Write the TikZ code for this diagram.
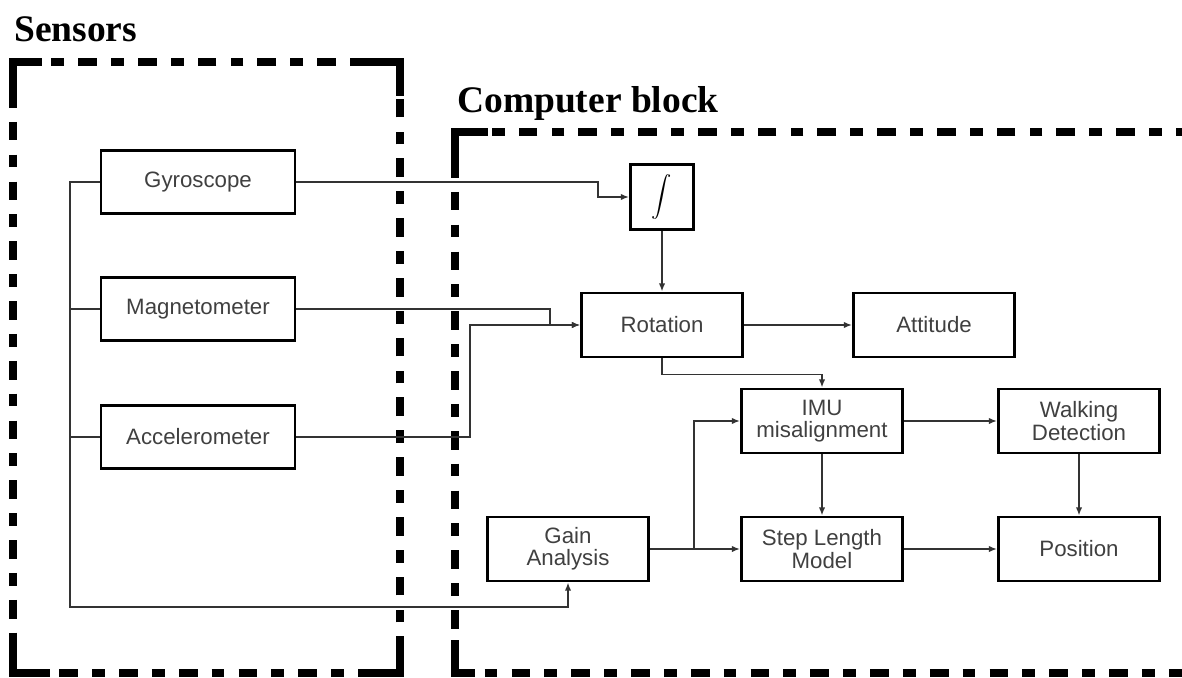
\documentclass[tikz,border=0pt]{standalone}
\usepackage{amsmath}
\usepackage{fontspec}
\setmainfont{Liberation Sans}
\newfontfamily\headfont{Liberation Serif}
\usetikzlibrary{arrows.meta}
\definecolor{wiregray}{HTML}{333333}
\definecolor{textgray}{HTML}{404040}
\tikzset{
  blk/.style={draw=black, line width=2.5pt, fill=white, inner sep=0pt, align=center,
    text=textgray, font=\fontsize{19}{19}\selectfont},
  sensbox/.style={blk, minimum width=5.82cm, minimum height=1.89cm},
  procbox/.style={blk, minimum width=4.83cm, minimum height=1.92cm},
  wire/.style={draw=wiregray, line width=1.5pt},
  arr/.style={wire, -{Latex[length=7pt,width=5.5pt]}},
  border/.style={line width=6.8pt, dash pattern=on 16pt off 12pt on 11pt off 12pt},
  corner/.style={line width=6.8pt},
  title/.style={font=\headfont\bfseries\fontsize{32}{34}\selectfont, anchor=base west, inner sep=0pt}
}

\begin{document}
\begin{tikzpicture}[x=0.03cm,y=-0.03cm]
\useasboundingbox (0,0) rectangle (1182,678);
% the two groups
\draw[border] (13,62) rectangle (400,673);
\draw[corner] (13,100) -- (13,62) -- (42,62);
\draw[corner] (360,62) -- (400,62) -- (400,96);
\draw[corner] (13,640) -- (13,673) -- (50,673);
\draw[corner] (360,673) -- (400,673) -- (400,640);
\draw[border] (455,132) rectangle (1210,673);
\draw[corner] (455,165) -- (455,132) -- (488,132);
\draw[corner] (455,640) -- (455,673) -- (475,673);
\node[title] (senstitle) at (14,42) {Sensors};
\node[title] (comptitle) at (457,113) {Computer block};
% sensors
\node[sensbox] (gyro) at (198,182) {Gyroscope};
\node[sensbox] (mag) at (198,309) {Magnetometer};
\node[sensbox] (acc) at (198,437) {Accelerometer};
% processing blocks
\node[blk, text=black, minimum width=1.89cm, minimum height=1.95cm] (integ) at (662,197)
  {\fontsize{16}{16}\selectfont$\displaystyle\int$};
\node[procbox] (rot) at (662,325) {Rotation};
\node[procbox] (att) at (934,325) {Attitude};
\node[procbox] (imu) at (822,421) {IMU\\misalignment};
\node[procbox] (walk) at (1079,421) {Walking\\Detection};
\node[procbox] (gain) at (568,549) {Gain\\Analysis};
\node[procbox] (step) at (822,549) {Step Length\\Model};
\node[procbox] (pos) at (1079,549) {Position};
% bend points
\coordinate (bus) at (70,607);
\coordinate (gbend) at (598,0);
\coordinate (mbend) at (550,0);
\coordinate (abend) at (470,0);
\coordinate (split) at (694,0);
% sensor bus to gain analysis
\draw[arr] (gyro.west) -| (bus) -| (gain.south);
\draw[wire] (mag.west) -- (mag.west -| bus);
\draw[wire] (acc.west) -- (acc.west -| bus);
% sensor outputs
\draw[arr] (gyro.east) -- (gyro.east -| gbend) |- (integ.west);
\draw[arr] (mag.east) -- (mag.east -| mbend) |- (rot.west);
\draw[arr] (acc.east) -- (acc.east -| abend) |- (rot.west);
% inside the computer block
\draw[arr] (integ.south) -- (rot.north);
\draw[arr] (rot) -- (att);
\draw[arr] (rot.south) -- ++(0,16) -| (imu.north);
\draw[arr] (imu) -- (walk);
\draw[arr] (imu) -- (step);
\draw[arr] (walk) -- (pos);
\draw[arr] (step) -- (pos);
\draw[arr] (gain) -- (step);
\draw[arr] (gain.east -| split) |- (imu.west);
\end{tikzpicture}
\end{document}
